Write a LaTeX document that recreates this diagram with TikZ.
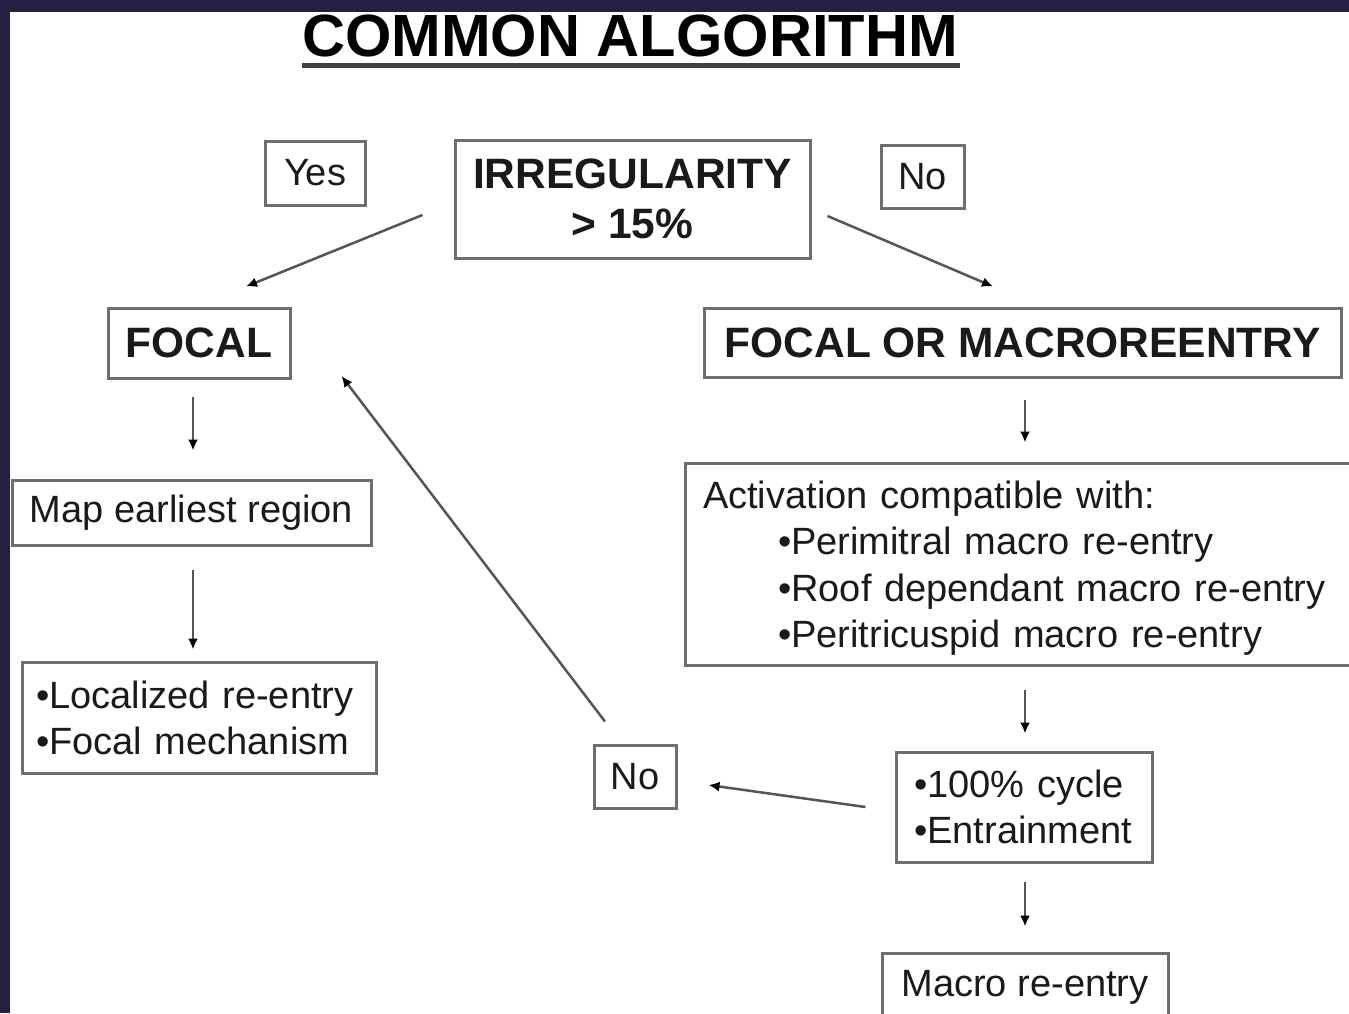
\documentclass[tikz,border=0pt]{standalone}
\usepackage{fontspec}
\setmainfont{Liberation Sans}
\usetikzlibrary{arrows.meta}
\definecolor{navy}{HTML}{232041}
\definecolor{boxgray}{HTML}{6E6E6E}
\definecolor{arrgray}{HTML}{555555}
\definecolor{ink}{HTML}{1A1A1A}
\begin{document}
\begin{tikzpicture}[x=1pt,y=-1pt,
  box/.style={draw=boxgray, line width=3pt, fill=white, text=ink, inner sep=0pt},
  boldtxt/.style={font=\fontsize{42.5}{50}\selectfont\bfseries},
  regtxt/.style={font=\fontsize{38}{46.5}\selectfont},
  arr/.style={draw=arrgray, line width=2.5pt, -{Latex[length=11pt,width=10pt,color=black]}}]
\useasboundingbox (0,0) rectangle (1349,1013);
\clip (0,0) rectangle (1349,1013);
\fill[white] (0,0) rectangle (1349,1013);

% title
\node[anchor=base, inner sep=0pt, text=black, font=\fontsize{59.6}{70}\selectfont\bfseries] (title) at (630,56) {COMMON ALGORITHM};
\draw[draw=black!75, line width=5pt] ([shift={(0,9)}]title.base west) -- ([shift={(2,9)}]title.base east);

% nodes
\node[box, regtxt, minimum width=100, minimum height=64] (yes) at (315,173) {Yes};
\node[box, boldtxt, align=center, minimum width=355, minimum height=118] (irr) at (632.5,199) {IRREGULARITY\\{>} 15\%};
\node[box, regtxt, minimum width=83, minimum height=63] (notop) at (922.5,176.5) {No};
\node[box, boldtxt, minimum width=182, minimum height=70] (focal) at (199,343) {FOCAL};
\node[box, boldtxt, minimum width=637, minimum height=69] (fom) at (1022.5,342.5) {FOCAL OR MACROREENTRY};
\node[box, regtxt, minimum width=359, minimum height=65] (map) at (191.5,512.5) {\raisebox{-3pt}{Map earliest region}};
\node[box, regtxt, align=left, text width=326, inner xsep=14, minimum height=111, font=\fontsize{38}{46}\selectfont] (loc) at (199,717.5)
  {\mbox{•Localized re-entry}\\\mbox{•Focal mechanism}};
\node[box, regtxt, align=left, text width=639, inner xsep=18, minimum height=202] (act) at (1022.5,564)
  {\rule{0pt}{36pt}\mbox{Activation compatible with:}\\
   \mbox{\hspace*{75pt}•Perimitral macro re-entry}\\
   \mbox{\hspace*{75pt}•Roof dependant macro re-entry}\\
   \mbox{\hspace*{75pt}•Peritricuspid macro re-entry}};
\node[box, regtxt, minimum width=82, minimum height=63] (nomid) at (635,776.5) {No};
\node[box, regtxt, align=left, text width=220, inner xsep=18, minimum height=110, font=\fontsize{38}{46}\selectfont] (cyc) at (1024,807)
  {\mbox{•100\% cycle}\\\mbox{•Entrainment}};
\node[box, regtxt, minimum width=286, minimum height=68] (macro) at (1025,987) {\raisebox{-3pt}{Macro re-entry}};

% connectors
\draw[arr] ([shift={(-31,16)}]irr.west) -- ([shift={(47,-20)}]focal.north);
\draw[arr] ([shift={(16,17)}]irr.east) -- ([shift={(-29.5,-20)}]fom.north);
\draw[arr] ([shift={(-6,17)}]focal.south) -- ([shift={(1.5,-28)}]map.north);
\draw[arr] ([shift={(1.5,23)}]map.south) -- ([shift={(-6,-11)}]loc.north);
\draw[arr] ([shift={(2.5,21)}]fom.south) -- ([shift={(2.5,-19)}]act.north);
\draw[arr] ([shift={(2.5,23)}]act.south) -- ([shift={(1,-17)}]cyc.north);
\draw[arr] ([shift={(1,18)}]cyc.south) -- ([shift={(0,-25)}]macro.north);
\draw[arr] ([shift={(-29,0)}]cyc.west) -- ([shift={(31,8.5)}]nomid.east);
\draw[arr] ([shift={(-30,-22)}]nomid.north) -- ([shift={(50,33)}]focal.east);

% dark frame
\fill[navy] (0,0) rectangle (1349,12);
\fill[navy] (0,0) rectangle (10,1013);
\end{tikzpicture}
\end{document}
